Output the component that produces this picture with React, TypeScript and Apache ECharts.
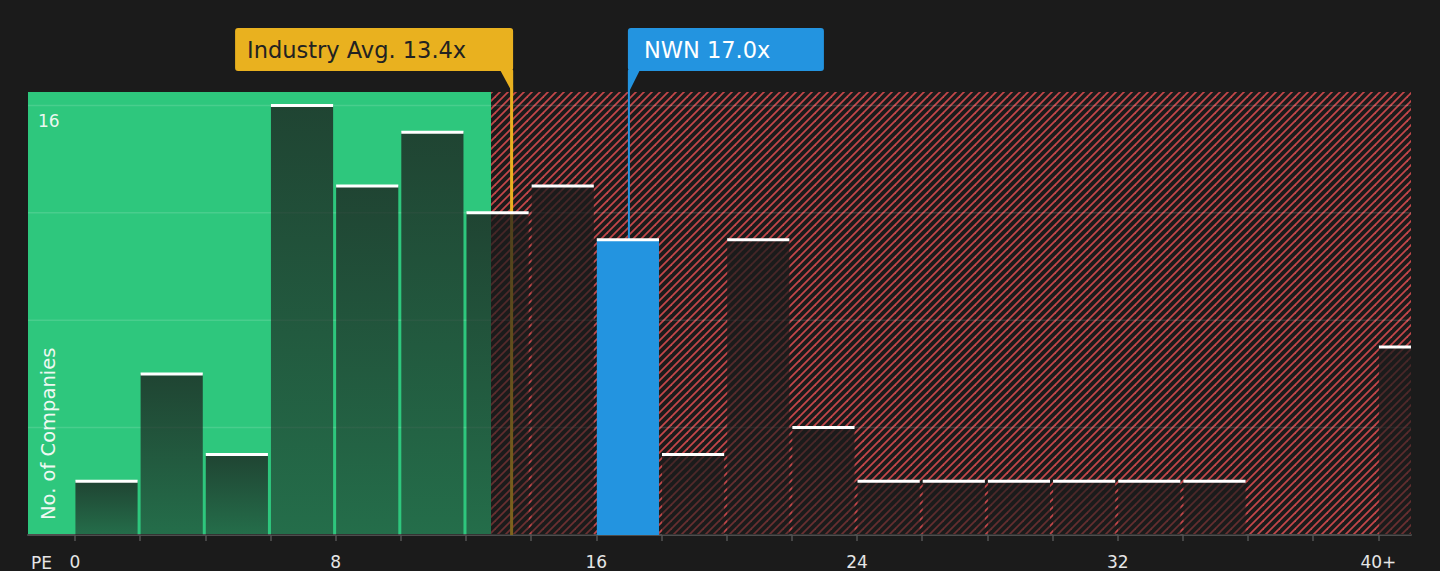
import React, { useEffect, useRef } from "react";
import * as echarts from "echarts";

// ---- data ----
const binStarts = [0, 2, 4, 6, 8, 10, 12, 14, 16, 18, 20, 22, 24, 26, 28, 30, 32, 34, 36, 38, 40];
const binWidth = 2;
const binCounts = [2, 6, 3, 16, 13, 15, 12, 13, 11, 3, 11, 4, 2, 2, 2, 2, 2, 2, 0, 0, 7];
const companyBinStart = 16;
const xTickValues = [0, 2, 4, 6, 8, 10, 12, 14, 16, 18, 20, 22, 24, 26, 28, 30, 32, 34, 36, 38, 40];
const xLabelValues = [0, 8, 16, 24, 32, 40];
const yGridValues = [4, 8, 12, 16];
const xMin = -1.44;
const xMax = 41;
const yMax = 16.5;
const fairValueLimit = 12.77;
const industryAvg = 13.4;
const companyPE = 17.0;
const companyName = "NWN";
const annotationTexts = [`Industry Avg. ${industryAvg.toFixed(1)}x`, `${companyName} ${companyPE.toFixed(1)}x`];

const FONT = "DejaVu Sans";
const GREEN = "#2ec77d";
const BLUE = "#2394e0";
const GOLD = "#e9b11f";
const BG = "#1b1b1b";

function makeHatch(): HTMLCanvasElement {
  const s = 16;
  const c = document.createElement("canvas");
  c.width = s;
  c.height = s;
  const ctx = c.getContext("2d")!;
  ctx.fillStyle = BG;
  ctx.fillRect(0, 0, s, s);
  ctx.strokeStyle = "#c3474a";
  ctx.lineWidth = 1.8;
  const offs = [-16, -8, 0, 8, 16, 24, 32];
  for (const o of offs) {
    ctx.beginPath();
    ctx.moveTo(o - 2, s + 2);
    ctx.lineTo(o + s + 2, -2);
    ctx.stroke();
  }
  return c;
}

export default function App() {
  const ref = useRef<HTMLDivElement>(null);
  useEffect(() => {
    if (!ref.current) return;
    const chart = echarts.init(ref.current, undefined, { renderer: "svg" });
    const hatch = makeHatch();
    const pattern: any = { image: hatch, repeat: "repeat", imageWidth: 16, imageHeight: 16 };

    const barGradient = new echarts.graphic.LinearGradient(0, 0, 0, 1, [
      { offset: 0, color: "rgba(27,27,27,0.76)" },
      { offset: 1, color: "rgba(27,27,27,0.52)" },
    ]);

    const regionData = [
      [xMin, fairValueLimit, 0],
      [fairValueLimit, xMax, 1],
    ];
    const barData = binStarts.map((s, i) => [s, s + binWidth, binCounts[i], s === companyBinStart ? 1 : 0]);
    const annotationData = [
      [industryAvg, 0],
      [companyPE, 1],
    ];

    const option: any = {
      animation: false,
      backgroundColor: BG,
      textStyle: { fontFamily: FONT },
      grid: { left: 28, right: 29, top: 92, bottom: 36, containLabel: false, outerBoundsMode: "none" },
      xAxis: {
        type: "value",
        min: xMin,
        max: xMax,
        splitLine: { show: false },
        axisLine: { show: true, onZero: false, lineStyle: { color: "#4d4d4d", width: 2 } },
        axisTick: { show: true, customValues: xTickValues, length: 6, lineStyle: { color: "#555555", width: 1.5 } },
        axisLabel: {
          show: true,
          customValues: xLabelValues,
          color: "#e6e6e6",
          fontSize: 17,
          fontFamily: FONT,
          margin: 18,
          formatter: (v: number) => (v === 40 ? "40+" : String(v)),
        },
      },
      yAxis: {
        type: "value",
        min: 0,
        max: yMax,
        interval: 4,
        splitLine: { show: false },
        axisLine: { show: false },
        axisTick: { show: false },
        axisLabel: {
          inside: true,
          margin: 10,
          color: "#eaf7ef",
          fontSize: 17,
          fontFamily: FONT,
          verticalAlign: "top",
          padding: [7, 0, 0, 0],
          formatter: (v: number) => (v === 16 ? "16" : ""),
        },
      },
      graphic: [
        {
          type: "text",
          x: 48,
          y: 520,
          rotation: Math.PI / 2,
          z: 10,
          style: { text: "No. of Companies", fill: "#eef8f2", fontSize: 19.5, fontFamily: FONT, align: "left", verticalAlign: "middle" },
        },
        {
          type: "text",
          x: 31,
          y: 563,
          z: 10,
          style: { text: "PE", fill: "#e6e6e6", fontSize: 17, fontFamily: FONT, align: "left", verticalAlign: "middle" },
        },
      ],
      series: [
        {
          type: "custom",
          name: "regions",
          z: -2,
          silent: true,
          encode: { x: [0, 1] },
          data: regionData,
          renderItem: (params: any, api: any) => {
            const cs = params.coordSys;
            const a = api.coord([api.value(0), 0]);
            const b = api.coord([api.value(1), 0]);
            const l = Math.max(a[0], cs.x);
            const r = Math.min(b[0], cs.x + cs.width);
            return {
              type: "rect",
              shape: { x: l, y: cs.y, width: r - l, height: cs.height },
              style: { fill: api.value(2) === 0 ? GREEN : pattern },
            };
          },
        },
        {
          type: "custom",
          name: "grid",
          z: -1,
          silent: true,
          encode: { y: 0 },
          data: yGridValues.map((v) => [v]),
          renderItem: (params: any, api: any) => {
            const cs = params.coordSys;
            const y = api.coord([0, api.value(0)])[1];
            return {
              type: "line",
              shape: { x1: cs.x, y1: y, x2: cs.x + cs.width, y2: y },
              style: { stroke: "rgba(255,255,255,0.13)", lineWidth: 1.5 },
            };
          },
        },
        {
          type: "custom",
          name: "annotations",
          z: 1,
          silent: true,
          encode: { x: 0 },
          data: annotationData,
          renderItem: (params: any, api: any) => {
            const cs = params.coordSys;
            const x = api.coord([api.value(0), 0])[0];
            const side = api.value(1);
            const axisY = cs.y + cs.height;
            const boxBottom = cs.y - 21;
            const boxTop = cs.y - 64;
            const text = annotationTexts[params.dataIndex];
            if (side === 0) {
              const right = x + 1.5;
              const w = 278;
              return {
                type: "group",
                children: [
                  { type: "line", shape: { x1: x, y1: boxBottom, x2: x, y2: axisY }, style: { stroke: GOLD, lineWidth: 3 } },
                  { type: "rect", shape: { x: right - w, y: boxTop, width: w, height: boxBottom - boxTop, r: 3 }, style: { fill: GOLD } },
                  { type: "polygon", shape: { points: [[right - 13, boxBottom - 1], [right, boxBottom - 1], [right, cs.y + 2]] }, style: { fill: GOLD } },
                  {
                    type: "text",
                    x: right - w + 12,
                    y: (boxTop + boxBottom) / 2,
                    style: { text, fill: "#222222", fontSize: 22.5, fontFamily: FONT, align: "left", verticalAlign: "middle" },
                  },
                ],
              };
            }
            const left = x - 1;
            const w = 196;
            return {
              type: "group",
              children: [
                { type: "line", shape: { x1: x, y1: boxBottom, x2: x, y2: axisY }, style: { stroke: BLUE, lineWidth: 2 } },
                { type: "rect", shape: { x: left, y: boxTop, width: w, height: boxBottom - boxTop, r: 3 }, style: { fill: BLUE } },
                { type: "polygon", shape: { points: [[left, boxBottom - 1], [left + 12, boxBottom - 1], [left, cs.y + 2]] }, style: { fill: BLUE } },
                {
                  type: "text",
                  x: left + 16,
                  y: (boxTop + boxBottom) / 2,
                  style: { text, fill: "#ffffff", fontSize: 22.5, fontFamily: FONT, align: "left", verticalAlign: "middle" },
                },
              ],
            };
          },
        },
        {
          type: "custom",
          name: "companies",
          z: 2,
          silent: true,
          encode: { x: [0, 1], y: 2 },
          data: barData,
          renderItem: (params: any, api: any) => {
            const v = api.value(2);
            if (!v) return null;
            const cs = params.coordSys;
            const a = api.coord([api.value(0), v]);
            const b = api.coord([api.value(1), 0]);
            const xl = a[0] + 0.5;
            const xr = Math.min(b[0] - 2.5, cs.x + cs.width);
            const top = a[1];
            const bottom = b[1];
            const isCompany = api.value(3) === 1;
            return {
              type: "group",
              children: [
                { type: "rect", shape: { x: xl, y: top, width: xr - xl, height: bottom - top }, style: { fill: isCompany ? BLUE : barGradient } },
                { type: "rect", shape: { x: xl, y: top - 1.5, width: xr - xl, height: 3 }, style: { fill: "#ffffff" } },
              ],
            };
          },
        },
      ],
    };
    chart.setOption(option);
    return () => chart.dispose();
  }, []);
  return <div ref={ref} style={{ position: "fixed", left: 0, top: 0, width: 1440, height: 571 }} />;
}
